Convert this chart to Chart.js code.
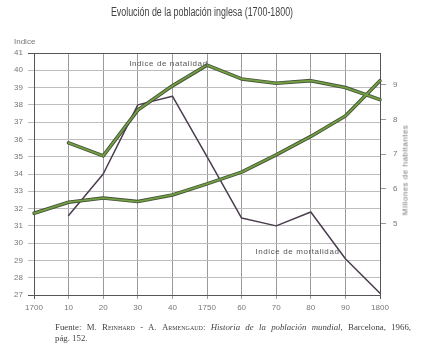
<!DOCTYPE html>
<html lang="es">
<head>
<meta charset="UTF-8">
<title>Evolución de la población inglesa (1700-1800)</title>
<script src="https://cdn.jsdelivr.net/npm/chart.js"></script>
<style>
  body { margin: 0; background: #fff; }
  #wrap { position: relative; width: 432px; height: 351px; overflow: hidden; }
  #title { position: absolute; left: 2px; width: 400px; top: 5px; text-align: center;
    font: 12px "Liberation Sans", sans-serif; color: #444; transform: scaleX(0.74); }
  #indice { position: absolute; left: 14px; top: 37px; font: 8px "Liberation Sans", sans-serif; color: #777; }
  #rtitle { position: absolute; left: 405px; top: 170px; transform: translate(-50%, -50%) rotate(-90deg);
    font: 8px "Liberation Sans", sans-serif; color: #777; white-space: nowrap; letter-spacing: 0.5px; }
  #fuente { position: absolute; left: 55px; top: 322px; width: 356px;
    font: 8.8px/11px "Liberation Serif", serif; color: #444; }
  #fuente .l1 { display: block; text-align: justify; text-align-last: justify; }
  .sc { font-variant: small-caps; }
</style>
</head>
<body>
<div id="wrap">
  <canvas id="popChart" width="432" height="351"></canvas>
  <div id="title">Evolución de la población inglesa (1700-1800)</div>
  <div id="indice">Indice</div>
  <div id="rtitle">Millones de habitantes</div>
  <div id="fuente"><span class="l1">Fuente: M. <span class="sc">Reinhard</span> - A. <span class="sc">Armengaud</span>: <i>Historia de la población mundial</i>, Barcelona, 1966,</span>pág. 152.</div>
</div>

<script>
  // decades 1700-1800
  const years = ['1700', '10', '20', '30', '40', '1750', '60', '70', '80', '90', '1800'];
  // indice de natalidad (left axis)
  const natalidad = [null, 35.8, 35.05, 37.7, 39.1, 40.3, 39.5, 39.25, 39.4, 39.0, 38.3];
  // indice de mortalidad (left axis)
  const mortalidad = [null, 31.6, 34.0, 38.0, 38.5, 35.0, 31.45, 31.0, 31.8, 29.1, 27.1];
  // millones de habitantes (right axis)
  const poblacion = [5.29, 5.61, 5.73, 5.63, 5.82, 6.14, 6.48, 6.98, 7.51, 8.1, 9.12];

  const green = '#72a042';
  const greenDark = '#46523a';
  const mortColor = '#4a3d4e';

  // text labels for the two rate curves
  const labelPlugin = {
    id: 'curveLabels',
    afterDatasetsDraw(chart) {
      const ctx = chart.ctx;
      const xs = chart.scales.x, ys = chart.scales.y;
      ctx.save();
      ctx.fillStyle = '#555';
      ctx.font = '8px "Liberation Sans", sans-serif';
      ctx.letterSpacing = '0.6px';
      ctx.textBaseline = 'middle';
      ctx.fillText('Indice de natalidad', xs.getPixelForValue(2.75), ys.getPixelForValue(40.4));
      ctx.fillText('Indice de mortalidad', xs.getPixelForValue(6.4), ys.getPixelForValue(29.5));
      ctx.restore();
    }
  };

  const ctx = document.getElementById('popChart').getContext('2d');
  new Chart(ctx, {
    type: 'line',
    data: {
      labels: years,
      datasets: [
        { data: poblacion, yAxisID: 'y1', borderColor: green, borderWidth: 1.8, order: 1 },
        { data: poblacion, yAxisID: 'y1', borderColor: greenDark, borderWidth: 3.6, order: 2 },
        { data: natalidad, yAxisID: 'y', borderColor: green, borderWidth: 1.8, order: 1 },
        { data: natalidad, yAxisID: 'y', borderColor: greenDark, borderWidth: 3.6, order: 2 },
        { data: mortalidad, yAxisID: 'y', borderColor: mortColor, borderWidth: 1.5, order: 1 }
      ]
    },
    options: {
      responsive: false,
      animation: false,
      devicePixelRatio: 1,
      layout: { padding: { top: 53, left: 0, right: 0, bottom: 36 } },
      elements: {
        point: { radius: 0 },
        line: { tension: 0, fill: false, borderJoinStyle: 'round', borderCapStyle: 'round' }
      },
      plugins: {
        legend: { display: false },
        tooltip: { enabled: false }
      },
      scales: {
        x: {
          offset: false,
          afterFit: s => { s.height = 20; },
          grid: {
            color: c => (c.index === 0 || c.index === years.length - 1) ? '#555' : '#9a9a9a',
            lineWidth: 1,
            tickLength: 4
          },
          border: { color: '#555' },
          ticks: { color: '#777', font: { size: 8, family: 'Liberation Sans' }, padding: 4, maxRotation: 0, autoSkip: false }
        },
        y: {
          position: 'left',
          min: 27,
          max: 41,
          afterFit: s => { s.width = 34; },
          grid: {
            color: c => (c.tick.value === 41 || c.tick.value === 27) ? '#555' : '#bdbdbd',
            lineWidth: 1,
            tickLength: 6
          },
          border: { color: '#555' },
          ticks: { stepSize: 1, color: '#777', font: { size: 8, family: 'Liberation Sans' }, padding: 5 }
        },
        y1: {
          position: 'right',
          min: 2.93,
          max: 9.92,
          afterFit: s => { s.width = 52; },
          afterBuildTicks: s => { s.ticks = [5, 6, 7, 8, 9].map(v => ({ value: v })); },
          grid: { drawOnChartArea: false, tickLength: 6, color: '#999' },
          border: { color: '#555' },
          ticks: { color: '#777', font: { size: 8, family: 'Liberation Sans' }, padding: 7 }
        }
      }
    },
    plugins: [labelPlugin]
  });
</script>
</body>
</html>
